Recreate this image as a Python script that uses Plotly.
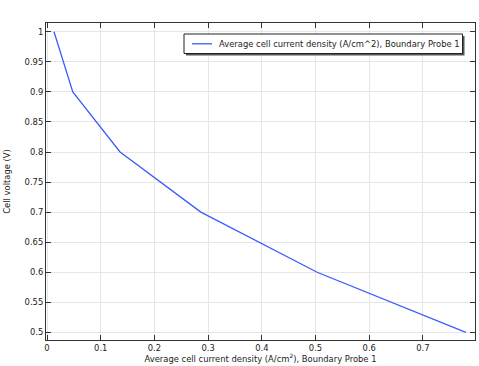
import plotly.graph_objects as go

current_density = [0.013, 0.048, 0.136, 0.2865, 0.503, 0.78]
cell_voltage = [1.0, 0.9, 0.8, 0.7, 0.6, 0.5]

x_tick_vals = [0, 0.1, 0.2, 0.3, 0.4, 0.5, 0.6, 0.7]
x_tick_text = ["0", "0.1", "0.2", "0.3", "0.4", "0.5", "0.6", "0.7"]
y_tick_vals = [0.5, 0.55, 0.6, 0.65, 0.7, 0.75, 0.8, 0.85, 0.9, 0.95, 1.0]
y_tick_text = ["0.5", "0.55", "0.6", "0.65", "0.7", "0.75", "0.8", "0.85", "0.9", "0.95", "1"]

series_name = "Average cell current density (A/cm^2), Boundary Probe 1"
x_title = "Average cell current density (A/cm<sup>2</sup>), Boundary Probe 1"
y_title = "Cell voltage (V)"

font_family = "DejaVu Sans, sans-serif"
fs = 8.4
line_color = "#3a5cff"

W, H = 479, 366
ML, MR, MT, MB = 46, 4, 23, 26
PW, PH = W - ML - MR, H - MT - MB


def px(x):
    return (x - ML) / PW


def py(y):
    return 1 - (y - MT) / PH


fig = go.Figure()
fig.add_trace(go.Scatter(
    x=current_density, y=cell_voltage, mode="lines",
    name=series_name, line=dict(color=line_color, width=1.3),
    showlegend=False,
))

axis_common = dict(
    showline=True, linecolor="#333333", linewidth=1.2, mirror="allticks",
    ticks="inside", ticklen=5, tickcolor="#333333",
    showgrid=True, gridcolor="#e6e6e6", gridwidth=1, zeroline=False,
    tickfont=dict(family=font_family, size=fs, color="#222222"),
)

# legend box (drawn as layout decoration)
bx0, bx1, by0, by1 = 184, 462.5, 34, 53.5
shapes = [
    dict(type="rect", xref="paper", yref="paper",
         x0=px(bx0 + 2), x1=px(bx1 + 2), y0=py(by1 + 2), y1=py(by0 + 2),
         fillcolor="#555555", line=dict(width=0), layer="above"),
    dict(type="rect", xref="paper", yref="paper",
         x0=px(bx0), x1=px(bx1), y0=py(by1), y1=py(by0),
         fillcolor="white", line=dict(color="#222222", width=1), layer="above"),
    dict(type="line", xref="paper", yref="paper",
         x0=px(192), x1=px(212), y0=py(43.8), y1=py(43.8),
         line=dict(color=line_color, width=1.3), layer="above"),
]
annotations = [
    dict(text=series_name, xref="paper", yref="paper",
         x=px(216.5), y=py(43.8), xanchor="left", yanchor="middle",
         showarrow=False, font=dict(family=font_family, size=fs, color="#222222")),
]

fig.update_layout(
    width=W, height=H,
    margin=dict(l=ML, r=MR, t=MT, b=MB),
    paper_bgcolor="white", plot_bgcolor="white",
    font=dict(family=font_family, size=fs, color="#222222"),
    showlegend=False,
    xaxis=dict(
        range=[-0.0019, 0.797], tickvals=x_tick_vals, ticktext=x_tick_text,
        title=dict(text=x_title, standoff=3, font=dict(size=fs)),
        **axis_common,
    ),
    yaxis=dict(
        range=[0.4874, 1.0145], tickvals=y_tick_vals, ticktext=y_tick_text,
        title=dict(text=y_title, standoff=12, font=dict(size=fs)),
        **axis_common,
    ),
    shapes=shapes,
    annotations=annotations,
)

fig.write_html("out.html")
